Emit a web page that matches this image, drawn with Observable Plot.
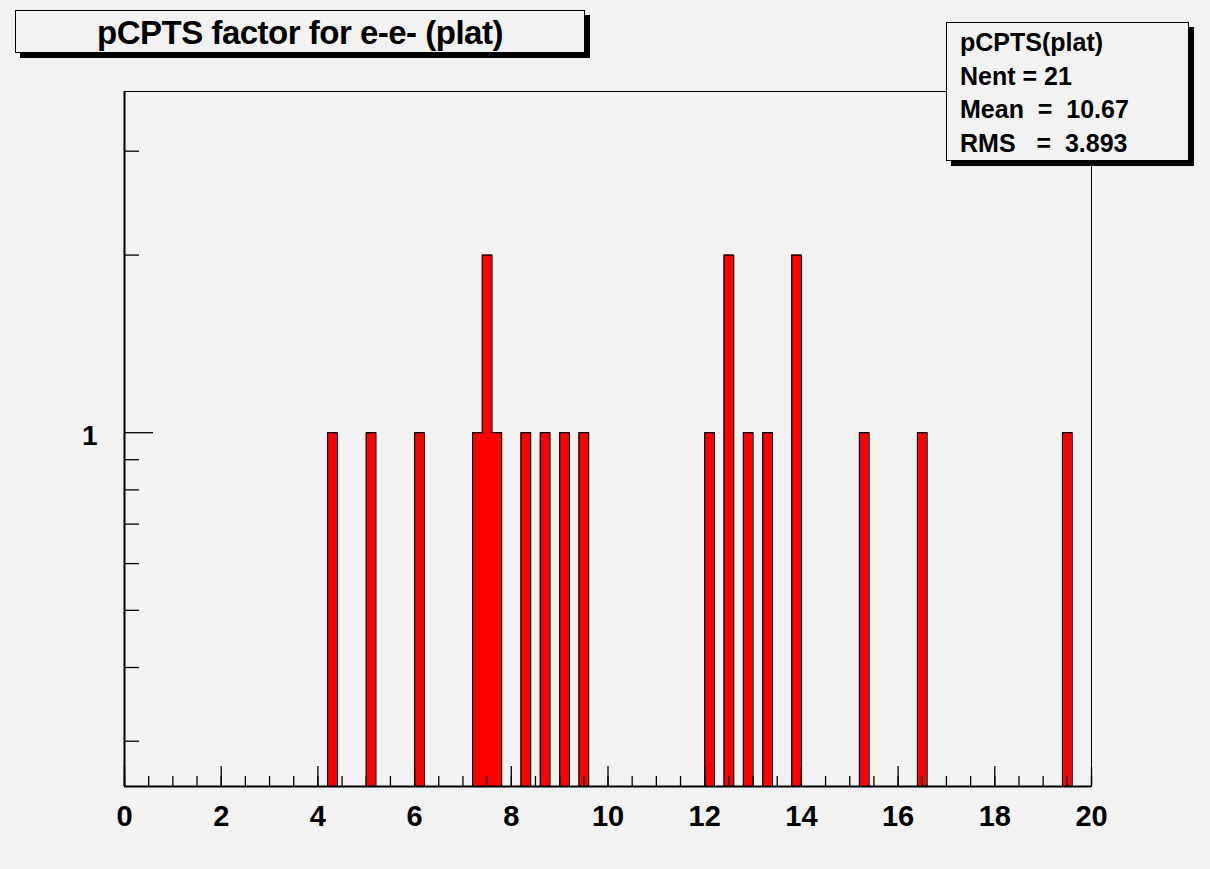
<!DOCTYPE html>
<html>
<head>
<meta charset="utf-8">
<script src="https://cdn.jsdelivr.net/npm/d3@7"></script>
<script src="https://cdn.jsdelivr.net/npm/@observablehq/plot@0.6"></script>
<style>
  body { margin: 0; background: #f2f2f2; }
  #chart {
    position: relative; width: 1210px; height: 869px; overflow: hidden;
    font-family: "Liberation Sans", Arial, Helvetica, sans-serif; font-weight: bold; color: #000;
  }
  #chart svg { position: absolute; left: 0; top: 0; }
  .box {
    position: absolute; background: #f2f2f2; border: 1px solid #000;
    box-shadow: 5px 5px 0 #000; box-sizing: border-box;
  }
  #title { left: 15px; top: 10px; width: 570px; height: 43px; font-size: 33px; letter-spacing: -0.5px;
           text-align: center; line-height: 41px; padding-top: 1px; white-space: nowrap; }
  #stats { left: 946px; top: 22px; width: 243px; height: 139px; font-size: 25px;
           line-height: 33.5px; padding: 3px 0 0 13px; white-space: pre; }
</style>
</head>
<body>
<div id="chart"></div>
<script>
// Histogram "pCPTS(plat)": 100 bins of width 0.2 on [0, 20], log-scaled counts
const titleText = "pCPTS factor for e-e- (plat)";
const statsName = "pCPTS(plat)";
const statsLines = ["Nent = 21", "Mean  =  10.67", "RMS   =  3.893"];

const binWidth = 0.2;
const xRange = [0, 20];
// lower edges of the non-empty bins and their contents
const binLow   = [4.2, 5.0, 6.0, 7.2, 7.4, 7.6, 8.2, 8.6, 9.0, 9.4, 12.0, 12.4, 12.8, 13.2, 13.8, 15.2, 16.4, 19.4];
const binCount = [1,   1,   1,   1,   2,   1,   1,   1,   1,   1,   1,    2,    1,    1,    2,    1,    1,    1];

const xTickLabels = [0, 2, 4, 6, 8, 10, 12, 14, 16, 18, 20];
const xMinorStep = 0.5;
const yTickLabels = [1];
const yMinorTicks = [0.3, 0.4, 0.5, 0.6, 0.7, 0.8, 0.9, 2, 3];
const yRange = [0.2514, 3.787];

// layout
const W = 1210, H = 869;
const margin = {top: 91, right: 119, bottom: 83, left: 124};
const innerW = W - margin.left - margin.right;
const innerH = H - margin.top - margin.bottom;
const font = "'Liberation Sans', Arial, Helvetica, sans-serif";

// full bin contents (empty bins sit on the lower edge of the log axis)
const nBins = Math.round((xRange[1] - xRange[0]) / binWidth);
const content = new Array(nBins).fill(0);
binLow.forEach((x, i) => { content[Math.round((x - xRange[0]) / binWidth)] = binCount[i]; });
const steps = content.map((n, i) => ({x: xRange[0] + i * binWidth, y: Math.max(n, yRange[0])}));
steps.push({x: xRange[1], y: steps[steps.length - 1].y});

const xMinorTicks = d3.range(xRange[0], xRange[1] + 1e-9, xMinorStep);

const plot = Plot.plot({
  width: W,
  height: H,
  marginTop: margin.top,
  marginRight: margin.right,
  marginBottom: margin.bottom,
  marginLeft: margin.left,
  style: {background: "transparent", overflow: "visible"},
  x: {domain: xRange, label: null},
  y: {type: "log", domain: yRange, label: null},
  marks: [
    Plot.frame({stroke: "#000", strokeWidth: 1}),
    // filled histogram
    Plot.areaY(steps, {x: "x", y1: yRange[0], y2: "y", curve: "step-after", fill: "#ff0000"}),
    // histogram outline
    Plot.line(steps, {x: "x", y: "y", curve: "step-after", stroke: "#000", strokeWidth: 1.2}),
    // axis lines
    Plot.ruleX([xRange[0]], {stroke: "#000", strokeWidth: 2}),
    Plot.ruleY([yRange[0]], {stroke: "#000", strokeWidth: 2}),
    // x ticks, pointing into the frame
    Plot.ruleX(xMinorTicks, {stroke: "#000", strokeWidth: 1.3, insetTop: innerH - 10}),
    Plot.ruleX(xTickLabels, {stroke: "#000", strokeWidth: 1.3, insetTop: innerH - 20}),
    // y ticks
    Plot.ruleY(yMinorTicks, {stroke: "#000", strokeWidth: 1.3, insetRight: innerW - 15}),
    Plot.ruleY(yTickLabels, {stroke: "#000", strokeWidth: 1.3, insetRight: innerW - 29}),
    // tick labels
    Plot.axisX(xTickLabels, {
      tickSize: 0, tickPadding: 19, tickFormat: d => String(d), label: null,
      fontSize: 29, fontWeight: "bold", fontFamily: font, fill: "#000"
    }),
    Plot.axisY(yTickLabels, {
      tickSize: 0, tickPadding: 27, tickFormat: d => String(d), label: null, dy: 3,
      fontSize: 28, fontWeight: "bold", fontFamily: font, fill: "#000"
    })
  ]
});

const chart = document.getElementById("chart");
chart.appendChild(plot);

const title = document.createElement("div");
title.id = "title";
title.className = "box";
title.textContent = titleText;
chart.appendChild(title);

const stats = document.createElement("div");
stats.id = "stats";
stats.className = "box";
stats.textContent = [statsName, ...statsLines].join("\n");
chart.appendChild(stats);
</script>
</body>
</html>
